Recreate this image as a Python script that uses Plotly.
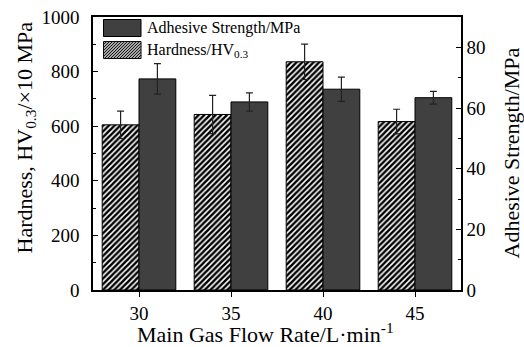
import plotly.graph_objects as go

# ---- data ----
flow_rate = [30, 35, 40, 45]
flow_labels = ["30", "35", "40", "45"]
hardness = [605, 643, 836, 617]
hardness_err = [50, 70, 65, 45]
adhesive = [69.6, 62.0, 66.2, 63.4]
adhesive_err = [5.0, 3.0, 4.0, 2.1]
left_ticks = [0, 200, 400, 600, 800, 1000]
right_ticks = [0, 20, 40, 60, 80]

FONT = "Liberation Serif"
DARK = "#404040"
HATCH = "#000000"

fig = go.Figure()
fig.add_trace(go.Bar(
    x=flow_rate, y=hardness, width=2, offset=-2, name="Hardness/HV<sub>0.3</sub>",
    marker=dict(color="white", line=dict(color="black", width=1),
                pattern=dict(shape="/", size=4, solidity=0.62, fgcolor=HATCH, bgcolor="white",
                             fgopacity=1, fillmode="replace")),
    error_y=dict(type="data", array=hardness_err, color="#222222", thickness=1.2, width=3.5),
    showlegend=False, yaxis="y",
))
fig.add_trace(go.Bar(
    x=flow_rate, y=adhesive, width=2, offset=0, name="Adhesive Strength/MPa",
    marker=dict(color=DARK, line=dict(color="black", width=1)),
    error_y=dict(type="data", array=adhesive_err, color="#222222", thickness=1.2, width=3.5),
    showlegend=False, yaxis="y2",
))

W, H = 524, 347
L, R, T, B = 93, 63, 17, 57
PW, PH = W - L - R, H - T - B


def px2paper(px, py):
    return (px - L) / PW, (H - B - py) / PH


shapes = []
# legend swatches (decoration)
x0, x1 = 103.5, 141
for (y0, y1, kind) in [(19.5, 36.5, "dark"), (41.5, 58.5, "hatch")]:
    a = px2paper(x0, y1)
    b = px2paper(x1, y0)
    if kind == "dark":
        shapes.append(dict(type="rect", xref="paper", yref="paper", x0=a[0], y0=a[1], x1=b[0], y1=b[1],
                           fillcolor=DARK, line=dict(color="black", width=1)))
    else:
        shapes.append(dict(type="rect", xref="paper", yref="paper", x0=a[0], y0=a[1], x1=b[0], y1=b[1],
                           fillcolor="white", line=dict(color="black", width=1)))
        path = ""
        k = x0 + y0 + 3
        while k < x1 + y1:
            xa = max(x0, k - y1)
            xb = min(x1, k - y0)
            if xb > xa:
                p1 = px2paper(xa, k - xa)
                p2 = px2paper(xb, k - xb)
                path += f"M{p1[0]:.5f},{p1[1]:.5f}L{p2[0]:.5f},{p2[1]:.5f}"
            k += 3
        shapes.append(dict(type="path", xref="paper", yref="paper", path=path,
                           line=dict(color="#1a1a1a", width=1.1)))

annotations = []
lx, ly1 = px2paper(145, 28)
_, ly2 = px2paper(145, 50)
annotations.append(dict(text="Adhesive Strength/MPa", x=lx, y=ly1, xref="paper", yref="paper",
                        xanchor="left", yanchor="middle", showarrow=False,
                        font=dict(family=FONT, size=16, color="black")))
annotations.append(dict(text="Hardness/HV<sub>0.3</sub>", x=lx, y=ly2, xref="paper", yref="paper",
                        xanchor="left", yanchor="middle", showarrow=False,
                        font=dict(family=FONT, size=16, color="black")))
# axis titles
tx, ty = px2paper(25, 137.5)
annotations.append(dict(text="Hardness, HV<sub>0.3</sub>/×10 MPa", x=tx, y=ty, xref="paper", yref="paper",
                        xanchor="center", yanchor="middle", textangle=-90, showarrow=False,
                        font=dict(family=FONT, size=22, color="black")))
tx, ty = px2paper(511, 153.5)
annotations.append(dict(text="Adhesive Strength/MPa", x=tx, y=ty, xref="paper", yref="paper",
                        xanchor="center", yanchor="middle", textangle=-90, showarrow=False,
                        font=dict(family=FONT, size=22, color="black")))
tx, ty = px2paper(265, 333)
annotations.append(dict(text="Main Gas Flow Rate/L·min<sup>-1</sup>", x=tx, y=ty, xref="paper", yref="paper",
                        xanchor="center", yanchor="middle", showarrow=False,
                        font=dict(family=FONT, size=22, color="black")))

axis_common = dict(showgrid=False, zeroline=False, showline=True, linecolor="black", linewidth=1.5,
                   tickfont=dict(family=FONT, size=19, color="black"), tickcolor="black")

fig.update_layout(
    width=W, height=H, margin=dict(l=L, r=R, t=T, b=B, autoexpand=False),
    paper_bgcolor="white", plot_bgcolor="white", barmode="overlay",
    font=dict(family=FONT, color="black"),
    xaxis=dict(range=[27.5, 47.5], tickvals=flow_rate, ticktext=flow_labels, ticks="outside", ticklen=5,
               mirror=True, **axis_common),
    yaxis=dict(range=[0, 1000], tickvals=left_ticks, ticks="inside", ticklen=5,
               minor=dict(dtick=100, ticks="inside", ticklen=3, tickcolor="black"),
               ticklabelstandoff=8, **axis_common),
    yaxis2=dict(range=[0, 90], tickvals=right_ticks, ticks="inside", ticklen=5, overlaying="y", side="right",
                minor=dict(dtick=10, ticks="inside", ticklen=3, tickcolor="black"), **axis_common),
    shapes=shapes, annotations=annotations, showlegend=False,
)

fig.write_html("out.html")
